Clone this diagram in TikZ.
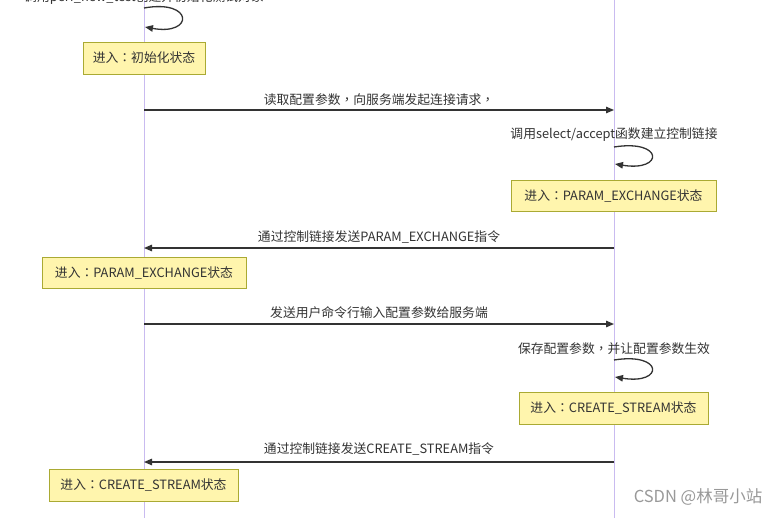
\documentclass[tikz,border=0pt]{standalone}
\usepackage{fontspec}
\setmainfont{Noto Sans CJK SC}
\newfontfamily\tcfont{Noto Sans CJK TC}
\newcommand{\fwcolon}{{\tcfont ：}}
\newcommand{\fwcomma}{{\tcfont ，}}
\usetikzlibrary{arrows.meta}
\definecolor{lifec}{HTML}{C9BBF0}
\definecolor{notefill}{HTML}{FFF5AD}
\definecolor{notedraw}{HTML}{AAAA33}
\definecolor{txt}{HTML}{333333}
\tikzset{
  lifeline/.style={draw=lifec, line width=1pt},
  notebox/.style={draw=notedraw, fill=notefill, line width=0.8pt, inner sep=0pt, text=txt, font=\fontsize{12.8}{14}\selectfont},
  msgtext/.style={text=txt, font=\fontsize{12.8}{14}\selectfont, inner sep=0pt},
  msg/.style={draw=txt, line width=1.3pt, -{Triangle[length=8pt,width=6.5pt]}},
  selfmsg/.style={draw=txt, line width=1.3pt, -{Triangle[length=8pt,width=6.5pt]}},
}
\begin{document}
\begin{tikzpicture}[x=1pt,y=-1pt]
\useasboundingbox (0,0) rectangle (782,517);
\fill[white] (0,0) rectangle (782,517);
\clip (0,0) rectangle (782,517);
% lifelines
\coordinate (ct) at (144,-10);
\coordinate (cb) at (144,530);
\coordinate (st) at (614,-10);
\coordinate (sb) at (614,530);
\draw[lifeline] (ct) -- (cb);
\draw[lifeline] (st) -- (sb);

% self message 1 (client)
\node[msgtext] (l0) at (144,-2.5) {调用perf\_new\_test创建并初始化测试对象};
\coordinate (s1a) at (144,8);
\coordinate (s1b) at (145,27);
\draw[selfmsg] (s1a) .. controls (194,-1) and (194,36) .. (s1b);

\node[notebox, minimum width=122pt, minimum height=32pt] (n1) at (144,58) {进入\fwcolon 初始化状态};

% message 1
\node[msgtext] (l1) at (379,99.5) {读取配置参数\fwcomma 向服务端发起连接请求\fwcomma};
\coordinate (m1a) at (144,110);
\coordinate (m1b) at (614,110);
\draw[msg] (m1a) -- (m1b);

% self message 2 (server)
\node[msgtext] (l2) at (614,134.5) {调用select/accept函数建立控制链接};
\coordinate (s2a) at (614,147);
\coordinate (s2b) at (615,164);
\draw[selfmsg] (s2a) .. controls (664,139) and (664,172) .. (s2b);

\node[notebox, minimum width=205pt, minimum height=31pt] (n2) at (613.5,195.5) {进入\fwcolon PARAM\_EXCHANGE状态};

% message 2
\node[msgtext] (l3) at (379,236.5) {通过控制链接发送PARAM\_EXCHANGE指令};
\coordinate (m2a) at (614,248);
\coordinate (m2b) at (144,248);
\draw[msg] (m2a) -- (m2b);

\node[notebox, minimum width=204pt, minimum height=31pt] (n3) at (144,272.5) {进入\fwcolon PARAM\_EXCHANGE状态};

% message 3
\node[msgtext] (l4) at (379,313) {发送用户命令行输入配置参数给服务端};
\coordinate (m3a) at (144,324);
\coordinate (m3b) at (614,324);
\draw[msg] (m3a) -- (m3b);

% self message 3
\node[msgtext] (l5) at (614,349) {保存配置参数\fwcomma 并让配置参数生效};
\coordinate (s3a) at (614,360);
\coordinate (s3b) at (615,377);
\draw[selfmsg] (s3a) .. controls (664,352) and (664,385) .. (s3b);

\node[notebox, minimum width=189pt, minimum height=32pt] (n4) at (613.5,408) {进入\fwcolon CREATE\_STREAM状态};

% message 4
\node[msgtext] (l6) at (379,449) {通过控制链接发送CREATE\_STREAM指令};
\coordinate (m4a) at (614,462);
\coordinate (m4b) at (144,462);
\draw[msg] (m4a) -- (m4b);

\node[notebox, minimum width=189pt, minimum height=32pt] (n5) at (143.5,485) {进入\fwcolon CREATE\_STREAM状态};

% watermark
\node[text=black!40, font=\fontsize{16.5}{18}\selectfont, inner sep=0pt] (wm) at (698,497) {CSDN @林哥小站};
\end{tikzpicture}
\end{document}
